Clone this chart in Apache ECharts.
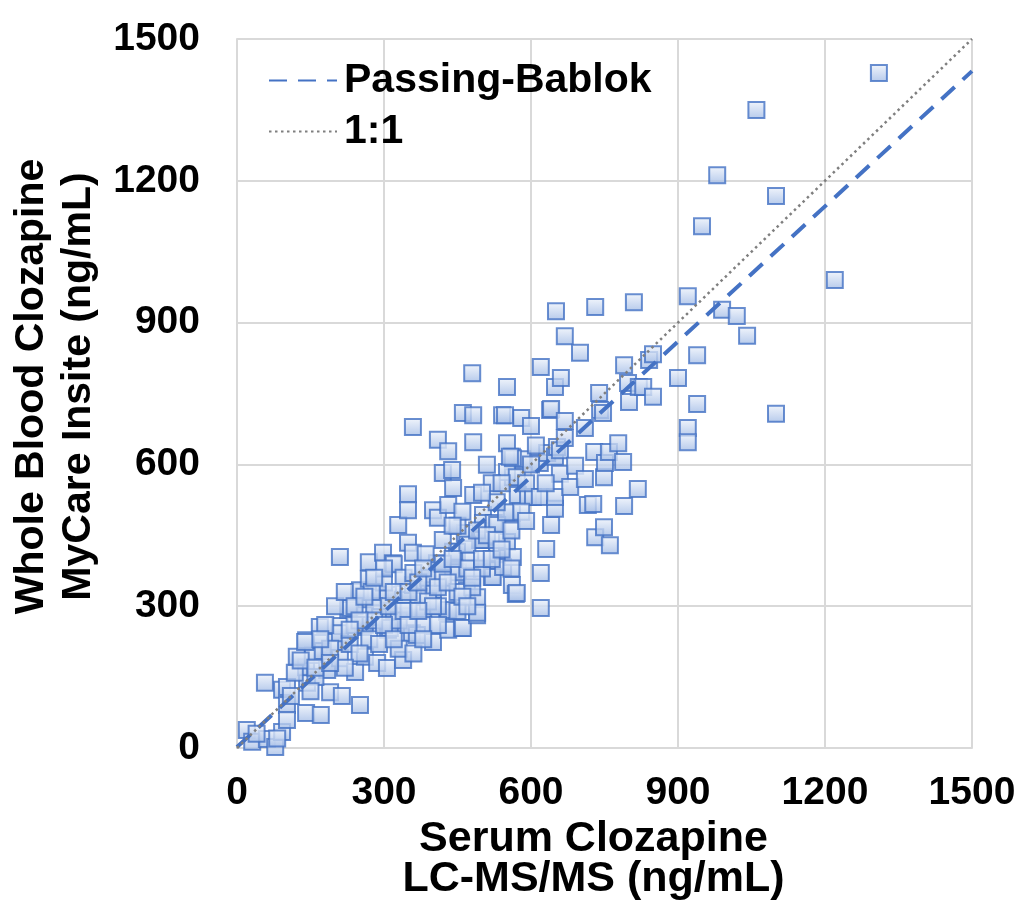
<!DOCTYPE html>
<html>
<head>
<meta charset="utf-8">
<script src="https://cdn.jsdelivr.net/npm/echarts@6/dist/echarts.min.js"></script>
<style>
  html, body { margin: 0; padding: 0; background: #fff; }
  #main { width: 1024px; height: 904px; }
</style>
</head>
<body>
<div id="main"></div>
<script>
// serum clozapine (LC-MS/MS), ng/mL
var serum = [
  20, 31, 61, 78, 92, 82, 57, 92, 102, 102,
  102, 141, 171, 143, 141, 118, 122, 155, 141, 169,
  184, 139, 190, 214, 200, 210, 160, 110, 130, 175,
  40, 150,
  210, 210, 210, 227, 231, 241, 249, 251, 251, 257,
  261, 261, 261, 269, 269, 286, 292, 292, 298, 306,
  308, 308, 312, 318, 320, 329, 339, 339, 349, 349,
  349, 357, 359, 359, 359, 367, 380, 400, 400, 408,
  400, 280, 300, 320, 340, 370, 390, 230, 240, 270,
  290, 330, 350, 380, 330, 360, 275, 385, 250, 220,
  410, 410, 420, 429, 431, 431, 431, 431, 439, 441,
  441, 441, 449, 451, 459, 461, 461, 465, 469, 476,
  480, 482, 482, 482, 490, 490, 490, 496, 500, 502,
  502, 510, 520, 522, 531, 531, 543, 551, 551, 551,
  561, 561, 561, 563, 569, 571, 541, 580, 582, 563,
  551, 571, 573, 594, 600, 604, 563, 547, 557, 524,
  531, 549, 420, 450, 470, 490, 510, 530, 520, 500,
  460, 440, 420, 470, 500, 530, 540, 580, 590, 560,
  450, 480, 410, 560, 590,
  618, 618, 620, 620, 620, 631, 633, 639, 641, 641,
  649, 649, 649, 649, 651, 653, 659, 659, 661, 669,
  669, 669, 680, 690, 700, 710, 710, 716, 727, 729,
  731, 731, 739, 741, 747, 749, 749, 751, 759, 761,
  778, 788, 790, 790, 798, 800, 810, 818, 820, 630,
  600, 610,
  829, 841, 849, 849, 900, 920, 920, 920, 939, 939,
  949, 980, 990, 1020, 1041, 1060, 1100, 1100, 1220, 1310,
  180, 200, 220, 240, 260, 280, 300, 310, 320, 340,
  350, 360, 370, 380, 390, 400, 410, 420, 430, 440,
  300, 280, 250, 230, 190, 170, 160, 190, 320, 350,
  370, 410, 450, 460, 480, 500, 520, 540, 470, 380
];
// whole blood clozapine (MyCare Insite), ng/mL
var blood = [
  38, 13, 19, 2, 34, 20, 138, 123, 129, 91,
  59, 74, 70, 138, 171, 159, 193, 197, 228, 256,
  165, 224, 118, 110, 224, 190, 150, 110, 185, 205,
  30, 120,
  404, 258, 243, 292, 296, 161, 330, 334, 91, 256,
  281, 260, 193, 393, 358, 180, 277, 319, 413, 169,
  324, 250, 254, 391, 389, 472, 313, 186, 434, 537,
  503, 243, 413, 345, 679, 239, 292, 334, 224, 391,
  503, 300, 350, 290, 360, 320, 360, 220, 260, 230,
  220, 270, 290, 260, 210, 200, 330, 410, 200, 170,
  487, 652, 582, 288, 250, 292, 514, 628, 588, 377,
  550, 415, 415, 372, 254, 254, 709, 455, 334, 398,
  793, 535, 647, 704, 281, 319, 286, 440, 440, 493,
  476, 599, 362, 362, 410, 413, 383, 436, 645, 764,
  497, 616, 345, 404, 326, 328, 704, 698, 611, 573,
  584, 573, 535, 531, 681, 531, 613, 704, 616, 476,
  472, 499, 440, 470, 430, 460, 450, 520, 560, 540,
  500, 470, 360, 380, 380, 440, 560, 500, 560, 460,
  330, 340, 300, 380, 480,
  531, 603, 806, 370, 296, 421, 624, 715, 717, 472,
  764, 616, 506, 531, 924, 637, 630, 580, 783, 871,
  692, 656, 552, 597, 836, 677, 569, 514, 516, 626,
  933, 446, 751, 715, 709, 573, 467, 603, 626, 429,
  645, 605, 810, 512, 772, 732, 943, 548, 764, 560,
  600, 640,
  764, 821, 833, 743, 783, 956, 677, 647, 831, 728,
  1104, 1212, 927, 914, 872, 1350, 1168, 707, 990, 1428,
  260, 300, 330, 300, 320, 270, 260, 300, 330, 290,
  330, 370, 350, 380, 310, 300, 340, 390, 350, 400,
  380, 360, 270, 250, 210, 230, 170, 180, 230, 260,
  290, 260, 290, 320, 360, 400, 400, 420, 300, 230
];
// fitted lines (x, y endpoints)
var pbX = [0, 1500];
var pbY = [2, 1432];
var idX = [0, 1500];
var idY = [0, 1500];

var points = serum.map(function (x, i) { return [x, blood[i]]; });
var pbLine = pbX.map(function (x, i) { return [x, pbY[i]]; });
var idLine = idX.map(function (x, i) { return [x, idY[i]]; });

var font = 'Liberation Sans, Arial, sans-serif';
var gridColor = '#d9d9d9';
var plain = function (v) { return String(v); };

var myChart = echarts.init(document.getElementById('main'));
myChart.setOption({
  animation: false,
  grid: { left: 237, right: 52, top: 39, bottom: 156, containLabel: false, outerBoundsMode: 'none' },
  legend: {
    data: ['Passing-Bablok', '1:1'],
    orient: 'vertical',
    left: 263,
    top: 55,
    itemWidth: 68,
    itemHeight: 20,
    itemGap: 10,
    textStyle: { fontSize: 41, fontWeight: 'bold', color: '#000', fontFamily: font, padding: [0, 0, 0, 2] }
  },
  xAxis: {
    type: 'value',
    min: 0, max: 1500, interval: 300,
    name: 'Serum Clozapine\nLC-MS/MS (ng/mL)',
    nameLocation: 'middle',
    nameGap: 68,
    nameTextStyle: { fontSize: 43, fontWeight: 'bold', color: '#000', fontFamily: font, lineHeight: 40, padding: [0, 22, 0, 0] },
    axisLine: { lineStyle: { color: gridColor, width: 2 } },
    axisTick: { show: false },
    axisLabel: { fontSize: 39, fontWeight: 'bold', color: '#000', fontFamily: font, margin: 26, formatter: plain },
    splitLine: { lineStyle: { color: gridColor, width: 2 } }
  },
  yAxis: {
    type: 'value',
    min: 0, max: 1500, interval: 300,
    name: 'Whole Blood Clozapine\nMyCare Insite (ng/mL)',
    nameLocation: 'middle',
    nameRotate: 90,
    nameGap: 135,
    nameTextStyle: { fontSize: 41, fontWeight: 'bold', color: '#000', fontFamily: font, lineHeight: 47, padding: [0, 0, 0, 14] },
    axisLine: { show: true, lineStyle: { color: gridColor, width: 2 } },
    axisTick: { show: false },
    axisLabel: { fontSize: 39, fontWeight: 'bold', color: '#000', fontFamily: font, margin: 37, formatter: plain },
    splitLine: { lineStyle: { color: gridColor, width: 2 } }
  },
  series: [
    {
      name: 'Passing-Bablok',
      type: 'line',
      data: pbLine,
      symbol: 'none',
      lineStyle: { color: '#4472c4', width: 4, type: [18, 11] },
      itemStyle: { color: '#4472c4', opacity: 0 }
    },
    {
      name: '1:1',
      type: 'line',
      data: idLine,
      symbol: 'none',
      lineStyle: { color: '#7f7f7f', width: 2.5, type: [2.5, 3.5] },
      itemStyle: { color: '#7f7f7f', opacity: 0 }
    },
    {
      name: 'samples',
      type: 'scatter',
      data: points,
      symbol: 'rect',
      symbolSize: 16,
      itemStyle: {
        color: new echarts.graphic.LinearGradient(0, 0, 0, 1, [
          { offset: 0, color: '#eef3fb' },
          { offset: 1, color: '#a3bce6' }
        ]),
        borderColor: '#4472c4',
        borderWidth: 2
      }
    }
  ]
});
</script>
</body>
</html>
